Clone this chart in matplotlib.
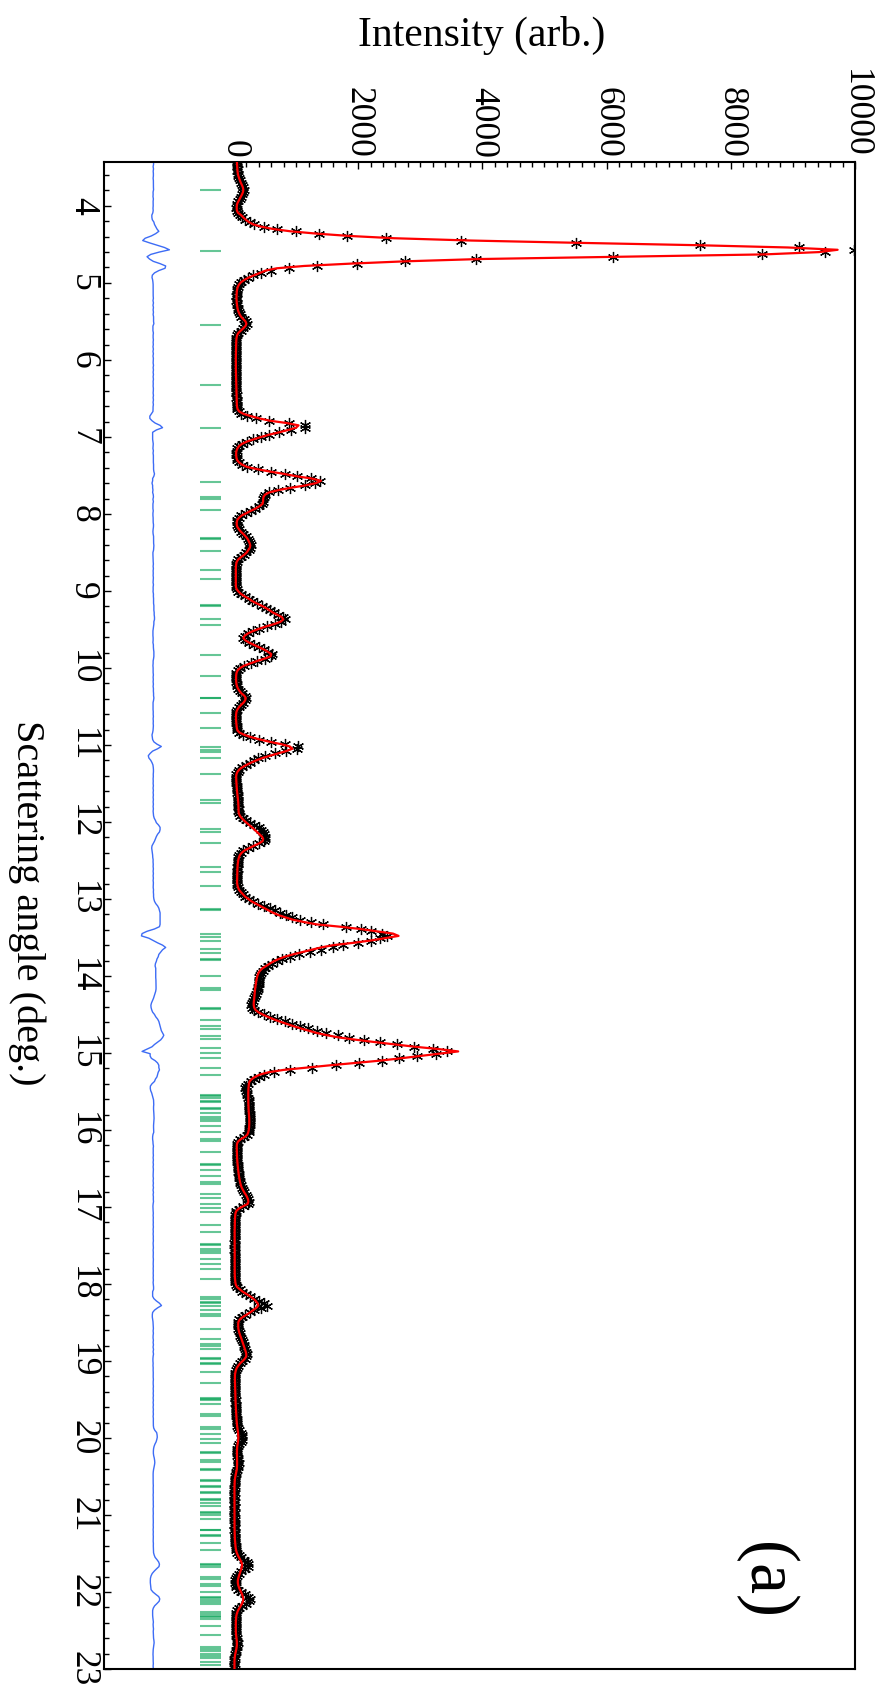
import numpy as np
import matplotlib
matplotlib.use("Agg")
import matplotlib.pyplot as plt
from matplotlib.ticker import FixedLocator

# ---------------- data ----------------
start_angle = 3.40      # first sampled scattering angle (deg)
step_angle = 0.03       # instrument step (deg)

y_obs = [
    48, 52, 55, 50, 58, 56, 64, 72, 80, 98,
    112, 130, 146, 155, 142, 128, 106, 90, 66, 50,
    45, 40, 46, 58, 92, 128, 175, 250, 330, 480,
    690, 1000, 1370, 1820, 2450, 3650, 5500, 7500, 9100, 9980,
    9515, 8500, 6100, 3900, 2750, 1980, 1330, 880, 600, 440,
    310, 220, 160, 110, 80, 60, 50, 45, 42, 40,
    42, 38, 48, 46, 58, 60, 78, 90, 120, 155,
    190, 210, 180, 145, 105, 72, 48, 40, 40, 34,
    36, 30, 35, 28, 33, 26, 32, 30, 28, 34,
    28, 34, 30, 36, 32, 38, 33, 36, 35, 40,
    40, 38, 44, 40, 46, 42, 48, 47, 55, 80,
    120, 215, 355, 560, 880, 1150, 1150, 920, 720, 560,
    430, 310, 205, 130, 78, 50, 42, 32, 38, 42,
    52, 82, 135, 215, 385, 590, 820, 1010, 1240, 1390,
    1300, 1140, 910, 715, 560, 500, 478, 465, 470, 455,
    405, 345, 270, 195, 120, 78, 50, 44, 48, 58,
    78, 105, 148, 190, 220, 240, 258, 272, 262, 235,
    200, 160, 112, 68, 44, 38, 30, 32, 28, 30,
    28, 32, 30, 27, 33, 30, 44, 72, 118, 172,
    240, 295, 365, 450, 520, 580, 640, 715, 790, 815,
    760, 660, 525, 410, 305, 225, 170, 148, 178, 235,
    322, 402, 485, 555, 610, 600, 495, 368, 268, 160,
    98, 58, 40, 38, 32, 35, 34, 42, 48, 68,
    92, 125, 170, 200, 185, 152, 112, 78, 52, 40,
    34, 35, 31, 36, 37, 44, 45, 52, 80, 150,
    265, 410, 590, 820, 1030, 1010, 830, 660, 500, 390,
    320, 255, 195, 135, 88, 58, 40, 36, 34, 38,
    38, 44, 42, 50, 50, 58, 58, 66, 66, 72,
    70, 75, 72, 80, 100, 140, 195, 250, 330, 400,
    440, 470, 480, 500, 505, 480, 400, 300, 220, 150,
    110, 85, 72, 68, 62, 60, 55, 57, 52, 55,
    50, 53, 48, 52, 56, 64, 84, 112, 150, 185,
    240, 300, 390, 490, 580, 660, 740, 830, 940, 1060,
    1240, 1440, 1800, 2050, 2200, 2380, 2460, 2350, 2200, 1990,
    1750, 1600, 1400, 1220, 1040, 900, 780, 690, 610, 550,
    500, 460, 435, 420, 410, 405, 400, 395, 390, 385,
    375, 360, 345, 330, 310, 290, 280, 290, 320, 380,
    480, 580, 700, 820, 940, 1060, 1190, 1330, 1480, 1670,
    1850, 2100, 2350, 2620, 2900, 3200, 3430, 3250, 2950, 2650,
    2380, 2020, 1640, 1260, 900, 640, 490, 400, 320, 270,
    220, 190, 185, 190, 205, 215, 225, 235, 238, 240,
    238, 240, 245, 250, 255, 258, 256, 252, 250, 248,
    245, 238, 210, 165, 100, 60, 45, 48, 44, 46,
    46, 50, 48, 54, 53, 60, 60, 68, 70, 74,
    78, 88, 92, 104, 110, 128, 142, 168, 188, 212,
    226, 236, 218, 145, 76, 38, 26, 18, 18, 14,
    15, 12, 14, 10, 12, 9, 11, 10, 12, 8,
    10, 12, 8, 11, 10, 9, 12, 10, 9, 11,
    9, 12, 11, 14, 14, 20, 20, 32, 55, 100,
    130, 190, 250, 320, 400, 480, 525, 430, 330, 250,
    185, 125, 85, 68, 66, 68, 72, 76, 90, 98,
    112, 130, 138, 155, 162, 182, 188, 202, 196, 170,
    135, 98, 66, 44, 28, 22, 15, 14, 17, 15,
    16, 20, 17, 21, 19, 23, 20, 26, 24, 30,
    28, 34, 33, 38, 36, 42, 44, 48, 52, 62,
    85, 120, 130, 135, 125, 110, 85, 65, 55, 50,
    50, 55, 65, 72, 75, 70, 60, 50, 38, 28,
    20, 15, 10, 9, 10, 7, 8, 9, 6, 8,
    7, 9, 8, 10, 6, 8, 9, 7, 8, 10,
    9, 7, 10, 8, 11, 10, 13, 14, 16, 22,
    25, 30, 38, 50, 75, 110, 160, 205, 230, 220,
    170, 120, 75, 45, 25, 15, 15, 25, 40, 60,
    110, 170, 230, 255, 240, 190, 130, 85, 55, 40,
    30, 28, 30, 32, 28, 30, 34, 30, 34, 40,
    45, 55, 60, 55, 45, 35, 25, 16, 12, 8,
    7, 9, 6, 8, 10,
]

y_calc = [
    45, 47, 50, 52, 54, 57, 62, 70, 82, 96,
    110, 128, 143, 150, 145, 130, 110, 88, 68, 52,
    46, 44, 47, 65, 115, 150, 190, 240, 310, 440,
    630, 910, 1330, 1850, 2580, 3820, 5560, 7440, 8920, 9720,
    9420, 8540, 6200, 3960, 2750, 1870, 1130, 690, 510, 420,
    325, 240, 170, 115, 82, 62, 52, 46, 43, 41,
    40, 42, 45, 50, 55, 62, 75, 92, 115, 150,
    185, 200, 185, 150, 110, 70, 50, 42, 38, 36,
    35, 34, 33, 32, 31, 30, 30, 30, 30, 30,
    30, 31, 32, 33, 34, 35, 35, 36, 37, 38,
    39, 40, 41, 42, 43, 45, 46, 50, 58, 85,
    150, 270, 410, 580, 850, 1040, 1000, 870, 730, 570,
    440, 320, 210, 130, 80, 55, 40, 35, 36, 40,
    50, 80, 130, 210, 380, 580, 800, 1000, 1250, 1400,
    1320, 1150, 920, 720, 570, 500, 475, 470, 468, 460,
    410, 350, 270, 200, 125, 80, 52, 45, 44, 55,
    80, 110, 150, 185, 215, 235, 252, 262, 255, 230,
    205, 165, 115, 70, 45, 36, 32, 30, 30, 30,
    30, 30, 30, 30, 30, 32, 45, 75, 115, 170,
    235, 290, 360, 440, 510, 570, 625, 700, 770, 795,
    750, 650, 520, 410, 310, 230, 175, 150, 180, 240,
    320, 400, 480, 545, 600, 590, 490, 370, 270, 165,
    100, 60, 42, 36, 34, 34, 36, 40, 50, 65,
    90, 120, 165, 190, 180, 155, 115, 80, 55, 40,
    35, 33, 33, 35, 38, 42, 46, 55, 90, 170,
    280, 420, 580, 760, 900, 940, 840, 710, 580, 460,
    360, 275, 200, 135, 85, 55, 40, 35, 36, 38,
    40, 42, 45, 48, 52, 56, 60, 64, 68, 70,
    72, 73, 74, 78, 95, 125, 160, 200, 245, 290,
    330, 370, 410, 450, 470, 460, 400, 320, 245, 170,
    125, 95, 80, 70, 65, 60, 57, 55, 54, 53,
    52, 51, 50, 50, 55, 65, 80, 110, 145, 180,
    230, 280, 350, 420, 490, 560, 630, 720, 830, 950,
    1130, 1330, 1700, 2030, 2300, 2560, 2650, 2420, 2200, 1920,
    1600, 1400, 1250, 1100, 950, 820, 720, 640, 575, 520,
    460, 420, 395, 380, 370, 362, 356, 350, 345, 340,
    336, 333, 330, 326, 322, 318, 318, 325, 345, 390,
    460, 540, 630, 730, 840, 950, 1070, 1200, 1330, 1500,
    1700, 1980, 2280, 2600, 2920, 3300, 3610, 3300, 3000, 2680,
    2350, 1950, 1550, 1170, 800, 560, 420, 340, 285, 250,
    240, 236, 233, 231, 230, 230, 230, 230, 231, 232,
    233, 235, 237, 240, 243, 245, 246, 246, 245, 243,
    238, 230, 215, 175, 110, 65, 48, 45, 45, 46,
    47, 48, 50, 52, 55, 58, 62, 66, 70, 75,
    80, 86, 94, 102, 112, 125, 145, 165, 190, 210,
    225, 232, 220, 150, 80, 40, 25, 20, 17, 15,
    14, 13, 12, 12, 11, 11, 10, 10, 10, 10,
    10, 10, 10, 10, 10, 10, 10, 10, 10, 10,
    10, 11, 12, 13, 15, 18, 22, 30, 50, 95,
    140, 200, 260, 310, 350, 380, 392, 360, 310, 260,
    200, 140, 95, 72, 68, 68, 70, 78, 88, 100,
    115, 128, 140, 152, 165, 178, 190, 198, 198, 175,
    140, 100, 70, 45, 30, 22, 16, 15, 15, 16,
    17, 18, 18, 19, 20, 21, 22, 24, 26, 28,
    30, 32, 34, 36, 38, 40, 43, 46, 50, 55,
    60, 65, 68, 70, 68, 64, 58, 52, 50, 48,
    48, 48, 49, 50, 50, 50, 48, 45, 38, 30,
    22, 16, 12, 10, 9, 8, 8, 8, 8, 8,
    8, 8, 8, 8, 8, 8, 8, 8, 8, 8,
    8, 8, 9, 10, 10, 11, 12, 14, 17, 20,
    24, 28, 35, 45, 60, 80, 100, 118, 130, 128,
    118, 105, 92, 80, 70, 62, 62, 68, 80, 95,
    115, 130, 142, 150, 145, 130, 108, 85, 65, 50,
    40, 35, 32, 30, 30, 30, 30, 30, 32, 36,
    40, 44, 46, 46, 42, 36, 28, 20, 14, 10,
    8, 8, 8, 8, 8,
]

bragg_positions = [
    3.80, 4.58, 5.55, 6.33, 6.89, 7.59, 7.775, 7.80, 7.95, 8.31, 8.32, 8.48,
    8.73, 8.85, 9.18, 9.19, 9.37, 9.44, 9.83, 10.10, 10.39, 10.39, 10.585,
    10.78, 11.03, 11.06, 11.095, 11.17, 11.38, 11.71, 11.75, 12.09, 12.13,
    12.28, 12.59, 12.65, 12.83, 13.13, 13.14, 13.46, 13.49, 13.55, 13.65,
    13.70, 13.78, 13.79, 14.00, 14.15, 14.18, 14.41, 14.43, 14.57, 14.65,
    14.69, 14.78, 14.82, 14.93, 14.995, 15.06, 15.19, 15.29, 15.55, 15.56,
    15.58, 15.62, 15.64, 15.71, 15.73, 15.78, 15.83, 15.86, 15.88, 15.95,
    16.03, 16.12, 16.14, 16.28, 16.44, 16.45, 16.52, 16.60, 16.68, 16.70,
    16.83, 16.88, 16.96, 17.01, 17.06, 17.24, 17.33, 17.48, 17.50, 17.55,
    17.57, 17.60, 17.67, 17.74, 17.81, 17.94, 18.17, 18.20, 18.23, 18.25,
    18.28, 18.34, 18.39, 18.42, 18.58, 18.71, 18.78, 18.80, 18.84, 18.96,
    18.98, 19.02, 19.04, 19.14, 19.28, 19.48, 19.49, 19.51, 19.56, 19.69,
    19.71, 19.86, 19.88, 19.95, 20.01, 20.06, 20.18, 20.20, 20.29, 20.31,
    20.40, 20.42, 20.55, 20.56, 20.62, 20.64, 20.70, 20.72, 20.79, 20.81,
    20.85, 20.88, 20.96, 20.97, 21.00, 21.05, 21.19, 21.20, 21.26, 21.27,
    21.37, 21.46, 21.63, 21.65, 21.68, 21.81, 21.83, 21.90, 21.92, 22.00,
    22.06, 22.08, 22.11, 22.13, 22.16, 22.26, 22.28, 22.31, 22.33, 22.35,
    22.44, 22.56, 22.71, 22.74, 22.77, 22.80, 22.83, 22.86, 22.91, 22.95,
]

diff_offset = -1300          # baseline of the difference curve
bragg_span = (-550, -215)    # horizontal extent of reflection markers

x_major_ticks = [0, 2000, 4000, 6000, 8000, 10000]
y_major_ticks = list(range(4, 24))

# ---------------- figure ----------------
plt.rcParams['font.family'] = ['Liberation Serif', 'DejaVu Serif']

two_theta = start_angle + step_angle * np.arange(len(y_obs))
obs = np.array(y_obs, dtype=float)
calc = np.array(y_calc, dtype=float)

fig = plt.figure(figsize=(8.8, 16.93), dpi=100)
ax = fig.add_axes([104 / 880, 1 - 1669 / 1693, (855 - 104) / 880, (1669 - 162) / 1693])

ax.plot(obs, two_theta, linestyle='none', marker=(6, 2, 0), markersize=8,
        markeredgewidth=0.9, color='black', zorder=2)
ax.plot(calc, two_theta, color='#ff0000', lw=1.6, zorder=3)
ax.plot(obs - calc + diff_offset, two_theta, color='#3d6cf5', lw=1.0, zorder=2)
ax.hlines(bragg_positions, bragg_span[0], bragg_span[1], colors='#00a050',
          lw=1.5, alpha=0.6, zorder=1)

ax.set_xlim(-2093, 10000)
ax.set_ylim(23.0, 3.43)

ax.xaxis.tick_top()
ax.xaxis.set_major_locator(FixedLocator(x_major_ticks))
ax.xaxis.set_minor_locator(FixedLocator(list(range(0, 10001, 200))))
ax.yaxis.set_major_locator(FixedLocator(y_major_ticks))
ax.yaxis.set_minor_locator(FixedLocator([round(3.6 + 0.2 * i, 2) for i in range(98)]))

ax.tick_params(which='both', direction='in', top=True, bottom=False, left=True,
               right=False, labeltop=True, labelbottom=False, labelleft=True,
               labelright=False, width=1.0, labelsize=25.5)
ax.tick_params(which='major', length=5)
ax.tick_params(which='minor', length=3.5)
ax.tick_params(axis='x', which='major', pad=3, labelrotation=-90)
ax.tick_params(axis='y', which='major', pad=3.5, labelrotation=-90)
for lbl in ax.get_yticklabels():
    lbl.set_verticalalignment('center')

for s in ax.spines.values():
    s.set_linewidth(1.5)

fig.text(482 / 880, 1 - 35 / 1693, 'Intensity (arb.)', fontsize=30,
         ha='center', va='center')
fig.text(27 / 880, 1 - 903 / 1693, 'Scattering angle (deg.)', fontsize=29,
         rotation=-90, ha='center', va='center')
fig.text(765 / 880, 1 - 1580 / 1693, '(a)', fontsize=50, rotation=-90,
         ha='center', va='center')

fig.savefig('out.png', dpi=100)
